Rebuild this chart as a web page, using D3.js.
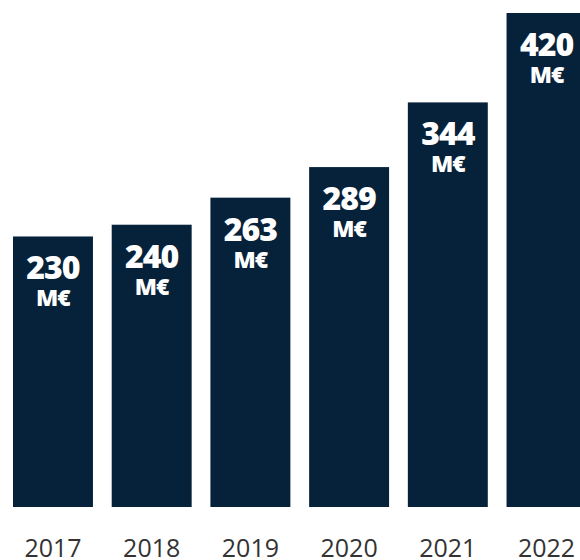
<!DOCTYPE html>
<html>
<head>
<meta charset="utf-8">
<script src="https://cdn.jsdelivr.net/npm/d3@7"></script>
<style>
  html, body { margin: 0; padding: 0; background: #ffffff; }
  svg { display: block; }
</style>
</head>
<body>
<div id="chart"></div>
<script>
// chart data
const years = ['2017', '2018', '2019', '2020', '2021', '2022'];
const revenue = [230, 240, 263, 289, 344, 420];
const unitLabel = 'M€';

const width = 580;
const height = 560;
const barColor = '#06223a';

const svg = d3.select('#chart')
  .append('svg')
  .attr('width', width)
  .attr('height', height);

const x = d3.scaleBand()
  .domain(years)
  .range([13, 586.5])
  .paddingInner(0.19)
  .paddingOuter(0);

const y = d3.scaleLinear()
  .domain([0, 420])
  .range([507, 13]);

const rows = years.map((year, i) => ({year, value: revenue[i]}));

svg.selectAll('.bar')
  .data(rows)
  .enter()
  .append('rect')
  .attr('class', 'bar')
  .attr('x', d => x(d.year))
  .attr('y', d => y(d.value))
  .attr('width', x.bandwidth())
  .attr('height', d => y(0) - y(d.value))
  .attr('fill', barColor);

// value + unit stacked inside the top of each bar
const labels = svg.selectAll('.value')
  .data(rows)
  .enter()
  .append('text')
  .attr('class', 'value')
  .attr('text-anchor', 'middle')
  .attr('font-family', 'Open Sans, sans-serif')
  .attr('font-weight', 800)
  .attr('letter-spacing', -1)
  .attr('fill', '#ffffff');

labels.append('tspan')
  .attr('x', d => x(d.year) + x.bandwidth() / 2)
  .attr('y', d => y(d.value) + 43)
  .attr('font-size', 32)
  .text(d => d.value);

labels.append('tspan')
  .attr('x', d => x(d.year) + x.bandwidth() / 2)
  .attr('y', d => y(d.value) + 70)
  .attr('font-size', 23)
  .text(unitLabel);

// year axis
const axis = svg.append('g')
  .attr('transform', `translate(0, 507)`)
  .call(d3.axisBottom(x).tickSize(0).tickPadding(50));

axis.select('.domain').remove();
axis.selectAll('text')
  .attr('font-family', 'Open Sans, sans-serif')
  .attr('font-size', 25)
  .attr('fill', '#333333')
  .attr('dy', 0);
</script>
</body>
</html>
